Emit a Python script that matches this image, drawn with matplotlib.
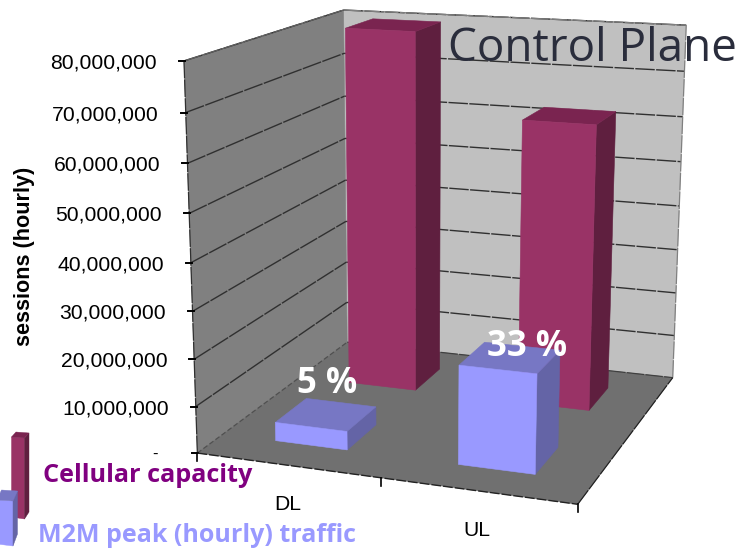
import numpy as np
import matplotlib
matplotlib.use("Agg")
import matplotlib.pyplot as plt
from matplotlib.patches import Polygon

categories = ["DL", "UL"]
cellular_capacity = [80000000, 62500000]
m2m_peak = [4000000, 20800000]
share_labels = ["5 %", "33 %"]
axis_ticks = [0, 10000000, 20000000, 30000000, 40000000, 50000000, 60000000, 70000000, 80000000]
axis_max = 80000000

FLOOR = "#707070"
SIDE_WALL = "#808080"
BACK_WALL = "#c0c0c0"
RED = ("#993366", "#5f1f3f", "#7a2450")
BLUE = ("#9999ff", "#6464a6", "#7777c4")
SANS = ["Liberation Sans", "DejaVu Sans"]
DECOR = ["Open Sans", "DejaVu Sans"]

# Camera calibration: box coordinates (across, depth, height) against canvas pixels.
box_points = np.array([
    [0, 0, 0], [1, 0, 0], [0, 1, 0], [1, 1, 0],
    [0, 0, 1], [0, 1, 1], [1, 1, 1],
    [0, 0, .5], [1, 1, .5],
], float)
pixel_points = np.array([
    [197, 453], [578, 504], [348, 342], [673, 378],
    [185, 61], [343, 10], [687, 25],
    [190, 263], [678, 206],
], float)


def solve_camera(src, dst):
    rows, rhs = [], []
    for (a, b, c), (u, v) in zip(src, dst):
        rows.append([a, b, c, 1, 0, 0, 0, 0, -u * a, -u * b, -u * c])
        rows.append([0, 0, 0, 0, a, b, c, 1, -v * a, -v * b, -v * c])
        rhs += [u, v]
    sol = np.linalg.lstsq(np.array(rows), np.array(rhs), rcond=None)[0]
    return np.append(sol, 1).reshape(3, 4)


CAMERA = solve_camera(box_points, pixel_points)


def project(x, d, z):
    """Map across/depth/height box coordinates onto the canvas."""
    h = CAMERA @ np.array([x, d, z, 1.0])
    return h[:2] / h[2]


fig = plt.figure(figsize=(7.4, 5.49), dpi=100)
ax = fig.add_axes([0, 0, 1, 1])
ax.set_xlim(0, 740)
ax.set_ylim(549, 0)
ax.axis("off")


def face(corners, color, z):
    ax.add_patch(Polygon([project(*c) for c in corners], closed=True, facecolor=color,
                         edgecolor=color, linewidth=0.4, zorder=z))


def edge(p, q, color="#222222", lw=0.9, z=3, dash=(0, (14, 1.0))):
    a, b = project(*p), project(*q)
    ax.plot([a[0], b[0]], [a[1], b[1]], color=color, lw=lw, zorder=z, linestyle=dash,
            solid_capstyle="butt")


# Walls and floor
face([(0, 1, 0), (1, 1, 0), (1, 1, 1), (0, 1, 1)], BACK_WALL, 1)
face([(0, 0, 0), (0, 1, 0), (0, 1, 1), (0, 0, 1)], SIDE_WALL, 1)
face([(0, 0, 0), (1, 0, 0), (1, 1, 0), (0, 1, 0)], FLOOR, 2)

# Gridlines, axis edges and ticks
for v in axis_ticks:
    z = v / axis_max
    if v > 0:
        edge((0, 0, z), (0, 1, z), color="#303030", lw=1.0)
        edge((0, 1, z), (1, 1, z), color="#303030", lw=1.0)
    px, py = project(0, 0, z)
    ax.plot([px - 5, px + 1], [py, py], color="black", lw=1.4, zorder=4)
    if v:
        ax.text(px - 27, py + 2, f"{v:,}", ha="right", va="center", fontsize=15.2,
                family=SANS, color="black")
    else:
        ax.text(px - 40, py + 1, "-", ha="right", va="center", fontsize=12,
                family=SANS, color="black")

edge((0, 0, 0), (0, 0, 1), color="#303030", lw=0.9)
edge((1, 1, 0), (1, 1, 1), color="#808080", lw=0.9)
edge((0, 1, 1), (1, 1, 1), color="#808080", lw=0.9)
edge((0, 0, 1), (0, 1, 1), color="#606060", lw=0.9)
edge((0, 0, 0), (0, 1, 0), color="#505050", lw=0.9, dash=(0, (4, 2)))
edge((0, 1, 0), (1, 1, 0), color="#404040", lw=0.9)
edge((1, 0, 0), (1, 1, 0), color="#222222", lw=0.9)
edge((0, 0, 0), (1, 0, 0), color="#222222", lw=1.0, z=4, dash=(0, (7, 1.5)))

for x in (0, .5, 1):
    px, py = project(x, 0, 0)
    ax.plot([px, px], [py, py + 8], color="black", lw=1.2, zorder=4)

# Category labels sit below the front edge
for i, name in enumerate(categories):
    px, py = project((i + .5) / 2, 0, 0)
    ax.text(px, py + 39.5, name, ha="center", va="center", fontsize=15.2, family=SANS,
            color="black")


def column(center, depth, value, colors, base_z):
    half_w, half_d = 0.10, 0.10
    x0, x1 = center - half_w, center + half_w
    d0, d1 = depth - half_d, depth + half_d
    top = value / axis_max
    front, side, cap = colors
    face([(x1, d0, 0), (x1, d1, 0), (x1, d1, top), (x1, d0, top)], side, base_z)
    face([(x0, d0, top), (x1, d0, top), (x1, d1, top), (x0, d1, top)], cap, base_z)
    face([(x0, d0, 0), (x1, d0, 0), (x1, d0, top), (x0, d0, top)], front, base_z + .1)


for i, value in enumerate(cellular_capacity):
    column((i + .5) / 2, 0.75, value, RED, 5 + i)
for i, value in enumerate(m2m_peak):
    column((i + .5) / 2, 0.25, value, BLUE, 8 + i)

# Share labels above the low-traffic columns
ax.text(327, 384, share_labels[0], ha="center", va="center", fontsize=25, family=DECOR,
        weight="bold", color="white", zorder=12)
ax.text(527, 347, share_labels[1], ha="center", va="center", fontsize=25, family=DECOR,
        weight="bold", color="white", zorder=12)

ax.text(25, 256, "sessions (hourly)", rotation=90, ha="center", va="center",
        fontsize=15.6, family=SANS, weight="bold", color="black")
ax.text(592, 49, "Control Plane", ha="center", va="center", fontsize=33, family=DECOR,
        color="#2a2d3c", zorder=13)


def legend_key(x, top, w, h, dx, dy, colors):
    front, side, cap = colors
    ax.add_patch(Polygon([(x, top + dy), (x + w, top + dy + 1), (x + w, top + dy + h),
                          (x, top + dy + h - 2)], facecolor=front, edgecolor=front, lw=.3, zorder=14))
    ax.add_patch(Polygon([(x + w, top + dy + 1), (x + w + dx, top + 1), (x + w + dx, top + h - 3 + 1),
                          (x + w, top + dy + h)], facecolor=side, edgecolor=side, lw=.3, zorder=14))
    ax.add_patch(Polygon([(x, top + dy), (x + dx, top), (x + w + dx, top + 1), (x + w, top + dy + 1)],
                         facecolor=cap, edgecolor=cap, lw=.3, zorder=14))


legend_key(11.5, 432, 13, 82, 4.5, 5, RED)
legend_key(-3, 490, 16, 46, 4.5, 10, BLUE)
ax.text(43, 476, "Cellular capacity", ha="left", va="center", fontsize=18.2, family=DECOR,
        weight="bold", color="#800080", zorder=14)
ax.text(38, 535, "M2M peak (hourly) traffic", ha="left", va="center", fontsize=18, family=DECOR,
        weight="bold", color="#9999ff", zorder=14)

fig.savefig("out.png", dpi=100)
